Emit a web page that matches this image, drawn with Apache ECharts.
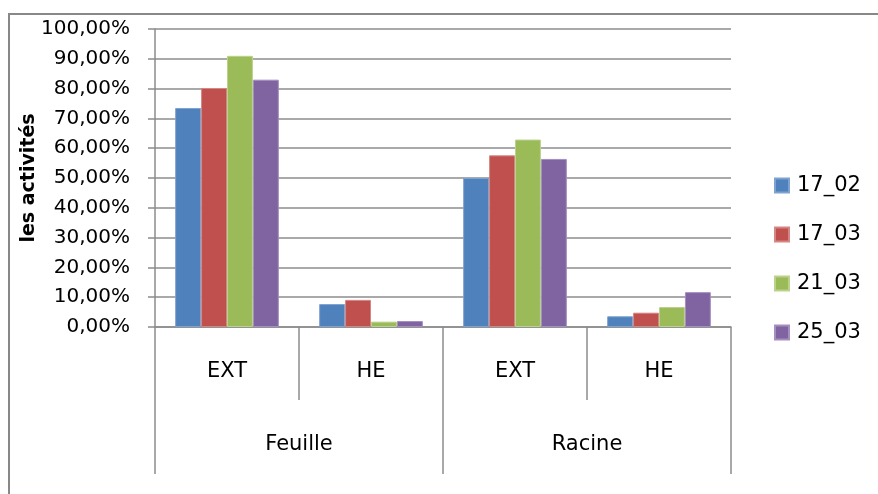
<!DOCTYPE html>
<html>
<head>
<meta charset="utf-8">
<script src="https://cdn.jsdelivr.net/npm/echarts@6/dist/echarts.min.js"></script>
<style>
  html, body { margin: 0; padding: 0; background: #fff; }
  #chart { width: 878px; height: 494px; }
</style>
</head>
<body>
<div id="chart"></div>
<script>
// Sample types (inner level) and organs (outer level) of the category axis
const sampleTypes = ['EXT', 'HE', 'EXT', 'HE'];
const organs = ['Feuille', 'Racine'];

// Activities in percent, one array per sampling date
const seriesNames = ['17_02', '17_03', '21_03', '25_03'];
const act_17_02 = [73.5, 7.7, 50.0, 3.6];
const act_17_03 = [80.2, 9.1, 57.6, 4.8];
const act_21_03 = [91.0, 1.8, 62.9, 6.7];
const act_25_03 = [83.0, 2.0, 56.4, 11.7];

// Y axis scale
const yMin = 0;
const yMax = 100;
const yStep = 10;

const colors = ['#4F81BD', '#C0504D', '#9BBB59', '#8064A2'];
const edgeColors = ['#7FA3D0', '#D48683', '#BBD28B', '#A48FC0'];
const lineGray = '#8c8c8c';
const fontFamily = '"DejaVu Sans", sans-serif';

const chart = echarts.init(document.getElementById('chart'), null, { renderer: 'canvas' });

const values = [act_17_02, act_17_03, act_21_03, act_25_03];

chart.setOption({
  animation: false,
  backgroundColor: '#ffffff',
  textStyle: { fontFamily: fontFamily, color: '#000' },
  color: colors,
  graphic: [{
    type: 'rect',
    shape: { x: 9, y: 14, width: 900, height: 520 },
    style: { fill: 'none', stroke: '#888888', lineWidth: 2 },
    silent: true
  }],
  grid: { left: 155, top: 29, width: 576, height: 298 },
  legend: {
    orient: 'vertical',
    left: 774,
    top: 175,
    padding: 0,
    itemWidth: 14,
    itemHeight: 14,
    itemGap: 28,
    icon: 'rect',
    textStyle: { fontSize: 21, fontFamily: fontFamily, color: '#000', padding: [0, 0, 0, 3] },
    data: seriesNames
  },
  xAxis: [{
    type: 'category',
    data: sampleTypes,
    position: 'bottom',
    axisLine: { show: true, lineStyle: { color: lineGray, width: 1.5 } },
    axisTick: { show: true, length: 73, lineStyle: { color: lineGray, width: 1.5 } },
    axisLabel: { interval: 0, fontSize: 21, margin: 34, color: '#000', fontFamily: fontFamily },
    splitLine: { show: false }
  }, {
    type: 'category',
    data: organs,
    position: 'bottom',
    axisLine: { show: false },
    axisTick: { show: true, length: 147, lineStyle: { color: lineGray, width: 1.5 } },
    axisLabel: { interval: 0, fontSize: 21, margin: 107, color: '#000', fontFamily: fontFamily },
    splitLine: { show: false }
  }],
  yAxis: {
    type: 'value',
    min: yMin,
    max: yMax,
    interval: yStep,
    name: 'les activités',
    nameLocation: 'middle',
    nameGap: 116,
    nameMoveOverlap: false,
    nameRotate: 90,
    nameTextStyle: { fontSize: 19, fontWeight: 'bold', color: '#000', fontFamily: fontFamily },
    axisLine: { show: true, lineStyle: { color: lineGray, width: 1.5 } },
    axisTick: { show: true, length: 7, lineStyle: { color: lineGray, width: 1.5 } },
    axisLabel: {
      fontSize: 20,
      margin: 25,
      color: '#000',
      fontFamily: fontFamily,
      formatter: v => v.toFixed(2).replace('.', ',') + '%'
    },
    splitLine: { show: true, lineStyle: { color: lineGray, width: 1.5 } }
  },
  series: seriesNames.map((name, i) => ({
    name: name,
    type: 'bar',
    xAxisIndex: 0,
    barGap: '0%',
    barCategoryGap: '28%',
    itemStyle: { color: colors[i], borderColor: edgeColors[i], borderWidth: 1 },
    data: values[i]
  }))
});
</script>
</body>
</html>
